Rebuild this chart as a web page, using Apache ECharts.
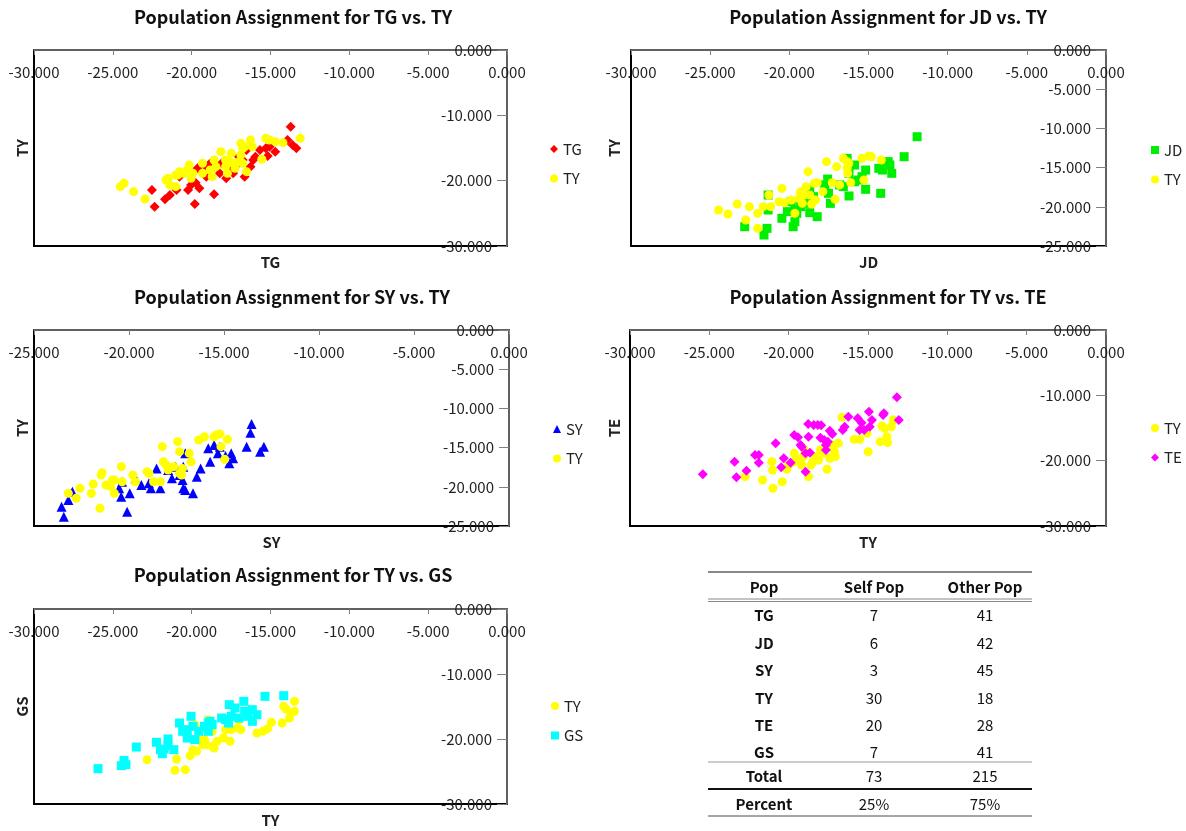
<!DOCTYPE html>
<html>
<head>
<meta charset="utf-8">
<script src="https://cdn.jsdelivr.net/npm/echarts@6/dist/echarts.min.js"></script>
<style>
html, body { margin: 0; padding: 0; background: #fff; }
#main { width: 1186px; height: 831px; }
</style>
</head>
<body>
<div id="main"></div>
<script>
var FONT = '"Noto Sans CJK KR", "Noto Sans", sans-serif';

// TG vs. TY
var tgTG = [[-13.72,-11.73],[-13.92,-13.78],[-13.60,-14.54],[-13.36,-15.05],[-14.70,-15.56],[-15.06,-14.80],[-15.18,-16.22],[-15.67,-15.31],[-15.96,-16.33],[-16.10,-16.84],[-16.27,-17.86],[-16.64,-19.39],[-16.76,-16.84],[-17.00,-16.33],[-17.37,-18.88],[-17.81,-19.64],[-18.10,-17.35],[-18.22,-18.88],[-18.58,-17.86],[-18.87,-17.45],[-19.07,-19.39],[-19.51,-21.17],[-19.63,-18.11],[-19.75,-20.31],[-20.23,-21.43],[-20.77,-19.39],[-20.96,-21.43],[-21.38,-22.19],[-21.69,-22.86],[-22.35,-23.98],[-22.52,-21.43],[-19.80,-23.57],[-18.58,-22.09],[-20.04,-20.66],[-19.07,-17.86],[-17.25,-17.86],[-15.30,-15.05],[-16.52,-15.31],[-17.61,-18.37]];
var tgTY = [[-24.53,-20.92],[-24.29,-20.41],[-23.68,-21.68],[-22.96,-22.81],[-21.62,-19.90],[-21.50,-19.64],[-21.01,-20.92],[-20.89,-19.13],[-20.77,-18.62],[-20.53,-18.88],[-20.28,-18.37],[-20.16,-17.60],[-20.04,-19.64],[-19.92,-18.88],[-19.31,-18.88],[-18.83,-18.37],[-18.70,-19.39],[-18.58,-16.84],[-18.46,-17.86],[-18.15,-15.56],[-17.85,-17.86],[-17.73,-18.88],[-17.61,-17.09],[-17.49,-15.82],[-17.37,-17.35],[-17.25,-18.11],[-17.00,-17.09],[-16.88,-14.29],[-16.76,-15.05],[-16.64,-14.80],[-16.52,-18.62],[-16.27,-13.78],[-16.15,-14.80],[-15.55,-16.73],[-15.30,-13.52],[-15.06,-13.78],[-14.70,-14.03],[-14.21,-14.18],[-13.12,-13.52],[-21.01,-19.13],[-21.38,-20.66],[-19.31,-17.35],[-17.85,-16.84],[-16.88,-16.07],[-16.76,-17.35]];

// JD vs. TY
var jdJD = [[-11.93,-11.06],[-12.75,-13.61],[-13.65,-14.67],[-13.53,-15.73],[-14.00,-14.46],[-14.12,-15.31],[-14.23,-18.28],[-15.18,-15.31],[-15.18,-17.77],[-15.41,-16.16],[-15.65,-16.58],[-15.88,-14.67],[-15.88,-16.80],[-16.23,-18.62],[-16.35,-13.82],[-16.59,-17.43],[-16.82,-17.21],[-17.41,-19.56],[-17.53,-18.28],[-17.58,-16.46],[-18.24,-21.26],[-18.47,-18.71],[-18.71,-20.75],[-18.71,-17.86],[-18.94,-19.56],[-19.18,-18.92],[-19.65,-20.41],[-19.65,-21.90],[-19.76,-22.54],[-19.88,-19.35],[-20.12,-20.62],[-20.47,-21.47],[-21.34,-20.41],[-21.34,-18.50],[-21.41,-22.75],[-21.60,-23.60],[-22.82,-22.54],[-13.76,-14.24],[-16.23,-15.73],[-19.53,-20.83],[-19.29,-19.98],[-17.76,-17.21],[-14.35,-15.09]];
var jdTY = [[-24.47,-20.41],[-23.88,-20.92],[-23.29,-19.64],[-22.75,-21.68],[-22.52,-19.98],[-22.00,-22.75],[-22.00,-20.83],[-21.65,-19.98],[-21.29,-18.50],[-21.18,-19.98],[-20.64,-19.35],[-20.47,-17.65],[-20.31,-19.47],[-19.88,-19.13],[-19.65,-20.83],[-19.41,-18.92],[-19.29,-18.07],[-19.18,-19.56],[-19.06,-18.50],[-18.94,-17.43],[-18.82,-15.52],[-18.71,-18.50],[-18.59,-19.64],[-18.42,-17.01],[-18.24,-16.92],[-17.88,-18.07],[-17.65,-14.24],[-17.29,-16.92],[-17.11,-19.05],[-17.01,-14.88],[-16.82,-17.21],[-16.59,-13.82],[-16.35,-15.09],[-16.31,-15.73],[-16.24,-14.46],[-16.12,-16.92],[-15.41,-13.82],[-15.29,-16.58],[-14.99,-13.52],[-14.82,-13.61],[-14.19,-14.03],[-16.35,-14.24],[-18.35,-19.13]];

// SY vs. TY
var sySY = [[-13.55,-11.99],[-13.61,-13.10],[-13.81,-14.88],[-12.90,-14.88],[-13.10,-15.52],[-14.62,-15.73],[-14.52,-16.37],[-14.72,-17.01],[-15.22,-14.88],[-15.32,-15.73],[-15.52,-14.67],[-15.83,-15.09],[-15.73,-16.80],[-16.23,-17.65],[-16.43,-18.71],[-16.63,-20.83],[-17.04,-15.73],[-17.14,-17.43],[-17.18,-19.13],[-17.14,-20.20],[-17.34,-18.50],[-17.54,-17.43],[-17.74,-18.92],[-18.35,-20.20],[-18.55,-17.65],[-18.85,-20.20],[-18.95,-19.56],[-19.35,-19.77],[-19.66,-18.92],[-19.96,-20.83],[-20.10,-23.17],[-20.36,-19.35],[-20.41,-21.26],[-20.52,-20.20],[-23.19,-21.68],[-22.98,-20.62],[-23.55,-22.54],[-23.43,-23.81],[-17.04,-20.41],[-17.94,-17.86],[-14.92,-16.07]];
var syTY = [[-23.19,-20.83],[-22.78,-21.47],[-22.58,-20.20],[-21.98,-20.83],[-21.88,-19.64],[-21.53,-22.75],[-21.47,-18.50],[-21.41,-18.20],[-21.21,-19.77],[-20.97,-19.98],[-20.87,-19.13],[-20.77,-20.83],[-20.40,-17.43],[-20.36,-19.35],[-19.80,-18.50],[-19.66,-19.35],[-19.05,-18.07],[-18.95,-18.28],[-18.71,-19.35],[-18.35,-19.35],[-18.25,-14.88],[-18.19,-16.80],[-18.04,-17.21],[-17.94,-17.86],[-17.64,-17.43],[-17.44,-14.24],[-17.34,-15.52],[-17.24,-18.50],[-17.18,-17.65],[-16.83,-15.73],[-16.73,-16.80],[-16.33,-14.03],[-16.03,-13.61],[-15.42,-13.40],[-15.22,-13.27],[-15.16,-14.88],[-14.82,-13.95],[-14.96,-16.50],[-15.52,-13.61],[-17.34,-18.28],[-20.77,-19.13]];

// TY vs. TE
var teTY = [[-22.75,-22.45],[-21.65,-22.96],[-21.06,-20.15],[-21.01,-21.43],[-20.99,-24.23],[-20.40,-23.21],[-20.12,-21.33],[-20.00,-20.66],[-19.65,-20.15],[-19.65,-18.88],[-19.53,-19.64],[-19.29,-20.15],[-19.18,-20.66],[-19.00,-18.37],[-18.75,-22.45],[-18.59,-20.66],[-18.47,-20.15],[-18.28,-19.39],[-18.12,-19.90],[-18.00,-18.37],[-17.58,-21.33],[-17.41,-19.64],[-17.25,-17.60],[-17.11,-18.63],[-17.06,-19.39],[-16.87,-17.35],[-16.64,-13.37],[-15.88,-16.73],[-15.53,-16.73],[-14.99,-18.63],[-15.06,-15.82],[-14.23,-17.09],[-14.12,-14.69],[-13.95,-15.05],[-13.81,-16.33],[-13.76,-17.24],[-13.53,-14.80],[-13.41,-13.78],[-17.76,-18.88],[-19.06,-19.39]];
var teTE = [[-25.41,-22.09],[-23.41,-20.15],[-23.29,-22.55],[-22.66,-21.53],[-22.12,-19.13],[-21.88,-19.13],[-21.88,-20.30],[-20.82,-17.35],[-20.47,-21.02],[-20.31,-19.64],[-19.88,-20.30],[-19.65,-16.07],[-19.41,-16.43],[-19.25,-17.60],[-18.94,-21.68],[-18.94,-18.88],[-18.77,-14.39],[-18.75,-16.33],[-18.66,-18.77],[-18.42,-14.54],[-18.16,-14.54],[-17.95,-14.59],[-18.00,-16.48],[-17.76,-16.84],[-17.65,-17.60],[-17.41,-15.41],[-17.25,-15.92],[-17.65,-18.37],[-16.59,-15.31],[-16.47,-14.80],[-16.24,-13.27],[-15.65,-13.52],[-15.53,-15.31],[-15.41,-14.18],[-15.24,-15.31],[-14.94,-12.50],[-14.89,-14.80],[-14.75,-13.78],[-14.05,-13.01],[-14.00,-12.76],[-13.18,-10.31],[-13.06,-13.78],[-17.53,-17.09],[-19.18,-17.86]];

// TY vs. GS
var gsTY = [[-22.83,-23.18],[-21.06,-24.82],[-20.96,-23.08],[-20.40,-24.72],[-20.09,-22.56],[-19.92,-21.64],[-19.68,-21.90],[-19.31,-20.87],[-19.19,-20.10],[-19.07,-20.87],[-18.70,-21.13],[-18.58,-21.39],[-18.39,-20.36],[-17.98,-19.85],[-17.56,-20.36],[-17.49,-18.56],[-17.08,-18.31],[-16.88,-18.56],[-19.07,-18.05],[-18.70,-18.82],[-19.80,-17.79],[-19.55,-20.10],[-18.95,-17.03],[-15.86,-19.08],[-15.47,-18.82],[-15.18,-18.41],[-14.94,-17.44],[-14.26,-17.54],[-14.16,-14.97],[-14.01,-15.38],[-13.80,-16.77],[-13.68,-16.00],[-13.48,-14.21],[-13.48,-15.74],[-17.00,-17.03],[-17.85,-18.56]];
var gsGS = [[-25.94,-24.56],[-24.46,-24.10],[-24.29,-23.28],[-24.17,-23.95],[-23.51,-21.23],[-22.23,-20.51],[-21.98,-21.64],[-21.86,-22.26],[-21.50,-20.00],[-21.50,-21.03],[-21.13,-21.64],[-20.77,-17.54],[-20.57,-18.82],[-20.28,-19.85],[-20.04,-16.51],[-19.92,-18.05],[-19.80,-20.10],[-19.55,-18.82],[-19.19,-18.05],[-18.95,-18.82],[-18.83,-17.28],[-18.70,-17.79],[-18.10,-16.77],[-17.85,-17.03],[-17.66,-17.54],[-17.61,-14.72],[-17.49,-16.51],[-17.25,-15.23],[-17.00,-16.77],[-16.69,-14.21],[-16.64,-15.74],[-16.45,-16.51],[-16.15,-15.49],[-16.15,-17.28],[-15.86,-16.26],[-15.35,-13.44],[-14.16,-13.33],[-18.95,-17.54],[-20.28,-18.56],[-21.74,-21.54]];

// assignment table
var tablePops = ['TG', 'JD', 'SY', 'TY', 'TE', 'GS'];
var tableSelf = [7, 6, 3, 30, 20, 7];
var tableOther = [41, 42, 45, 18, 28, 41];
var tableTotal = [73, 215];
var tablePercent = ['25%', '75%'];

var sym = {
	TG: { symbol: 'diamond', size: 10, color: '#ff0000' },
	JD: { symbol: 'rect', size: 9, color: '#00ee00' },
	SY: { symbol: 'triangle', size: 10, color: '#0000ff' },
	TE: { symbol: 'diamond', size: 10, color: '#ff00ff' },
	GS: { symbol: 'rect', size: 9, color: '#00ffff' },
	TY: { symbol: 'circle', size: 9, color: '#ffff00' }
};

// layout of the five panels (px)
var panels = [
	{ title: 'Population Assignment for TG vs. TY', xName: 'TG', yName: 'TY', left: 34, top: 50, width: 473, height: 196, xMin: -30, yMin: -30, yStep: 10,
	  series: [['TG', tgTG], ['TY', tgTY]], legend: ['TG', 'TY'], lx: 550, ly: 141.5, tx: 293, ty: 17, nx: 21 },
	{ title: 'Population Assignment for JD vs. TY', xName: 'JD', yName: 'TY', left: 631, top: 50, width: 475, height: 196, xMin: -30, yMin: -25, yStep: 5,
	  series: [['JD', jdJD], ['TY', jdTY]], legend: ['JD', 'TY'], lx: 1151, ly: 142.5, tx: 888, ty: 17, nx: 613 },
	{ title: 'Population Assignment for SY vs. TY', xName: 'SY', yName: 'TY', left: 34, top: 330, width: 475, height: 196, xMin: -25, yMin: -25, yStep: 5,
	  series: [['SY', sySY], ['TY', syTY]], legend: ['SY', 'TY'], lx: 553, ly: 421.5, tx: 292, ty: 297, nx: 21 },
	{ title: 'Population Assignment for TY vs. TE', xName: 'TY', yName: 'TE', left: 630, top: 330, width: 476, height: 196, xMin: -30, yMin: -30, yStep: 10,
	  series: [['TY', teTY], ['TE', teTE]], legend: ['TY', 'TE'], lx: 1151, ly: 420.5, tx: 888, ty: 297, nx: 613 },
	{ title: 'Population Assignment for TY vs. GS', xName: 'TY', yName: 'GS', left: 34, top: 609, width: 473, height: 195, xMin: -30, yMin: -30, yStep: 10,
	  series: [['TY', gsTY], ['GS', gsGS]], legend: ['TY', 'GS'], lx: 551, ly: 698.5, tx: 293, ty: 575, nx: 21 }
];

var grids = [], xAxes = [], yAxes = [], seriesList = [], legends = [], graphics = [];
var axisGray = '#808080';

panels.forEach(function (p, i) {
	var right = p.left + p.width;
	grids.push({ left: p.left, top: p.top, width: p.width, height: p.height, show: true, borderColor: '#000', borderWidth: 2, containLabel: false });
	xAxes.push({
		gridIndex: i, type: 'value', position: 'top', min: p.xMin, max: 0, interval: 5,
		axisLine: { onZero: false, lineStyle: { color: axisGray, width: 1.5 } },
		axisTick: { inside: true, length: 5, lineStyle: { color: axisGray } },
		axisLabel: { inside: true, margin: 15, color: '#222', fontSize: 15, fontFamily: FONT, showMinLabel: true, showMaxLabel: true, hideOverlap: false,
			formatter: function (v) { return v.toFixed(3); } },
		splitLine: { show: false },
		name: p.xName, nameLocation: 'middle', nameGap: -(p.height + 24),
		nameTextStyle: { fontWeight: 'bold', fontSize: 15, color: '#222', fontFamily: FONT }
	});
	yAxes.push({
		gridIndex: i, type: 'value', position: 'right', min: p.yMin, max: 0, interval: p.yStep,
		axisLine: { onZero: false, lineStyle: { color: axisGray, width: 1.5 } },
		axisTick: { inside: true, length: 10, lineStyle: { color: axisGray } },
		axisLabel: { inside: true, margin: 15, color: '#222', fontSize: 15, fontFamily: FONT, showMinLabel: true, showMaxLabel: true, hideOverlap: false,
			formatter: function (v) { return v.toFixed(3); } },
		splitLine: { show: false },
		name: p.yName, nameLocation: 'middle', nameGap: -(right - p.nx + 6), nameRotate: 90,
		nameTextStyle: { fontWeight: 'bold', fontSize: 15, color: '#222', fontFamily: FONT }
	});
	p.series.forEach(function (s) {
		var st = sym[s[0]];
		seriesList.push({
			type: 'scatter', name: s[0], xAxisIndex: i, yAxisIndex: i, data: s[1],
			symbol: st.symbol, symbolSize: st.size, itemStyle: { color: st.color, opacity: 1 },
			emphasis: { disabled: true }
		});
	});
	legends.push({
		orient: 'vertical', left: p.lx, top: p.ly, padding: 0, itemGap: 14.5, itemWidth: 8, itemHeight: 8,
		data: p.legend, selectedMode: false,
		textStyle: { fontSize: 15, color: '#222', fontFamily: FONT }
	});
	graphics.push({
		type: 'text', x: p.tx, y: p.ty,
		style: { text: p.title, font: 'bold 18px ' + FONT, fill: '#111', textAlign: 'center', textVerticalAlign: 'middle' }
	});
});

// table drawing
var tx0 = 708, tx1 = 1032;
var colX = [764, 874, 985];
var rowY = [615, 643, 670, 698, 725, 752];
function hline(y, color, w) {
	graphics.push({ type: 'line', shape: { x1: tx0, y1: y, x2: tx1, y2: y }, style: { stroke: color, lineWidth: w } });
}
function cell(x, y, text, bold) {
	graphics.push({ type: 'text', x: x, y: y,
		style: { text: String(text), font: (bold ? 'bold ' : '') + '15px ' + FONT, fill: '#111', textAlign: 'center', textVerticalAlign: 'middle' } });
}
hline(572, '#888', 2);
cell(colX[0], 587, 'Pop', true);
cell(colX[1], 587, 'Self Pop', true);
cell(colX[2], 587, 'Other Pop', true);
hline(599, '#888', 1);
hline(601.5, '#888', 1);
tablePops.forEach(function (name, k) {
	cell(colX[0], rowY[k], name, true);
	cell(colX[1], rowY[k], tableSelf[k], false);
	cell(colX[2], rowY[k], tableOther[k], false);
});
hline(762, '#999', 1);
cell(colX[0], 776, 'Total', true);
cell(colX[1], 776, tableTotal[0], false);
cell(colX[2], 776, tableTotal[1], false);
hline(789, '#111', 2);
cell(colX[0], 804, 'Percent', true);
cell(colX[1], 804, tablePercent[0], false);
cell(colX[2], 804, tablePercent[1], false);
hline(816, '#888', 1.5);

var chart = echarts.init(document.getElementById('main'));
chart.setOption({
	animation: false,
	backgroundColor: '#fff',
	grid: grids,
	xAxis: xAxes,
	yAxis: yAxes,
	legend: legends,
	series: seriesList,
	graphic: graphics
});
window.onresize = function () { chart.resize(); };
</script>
</body>
</html>
